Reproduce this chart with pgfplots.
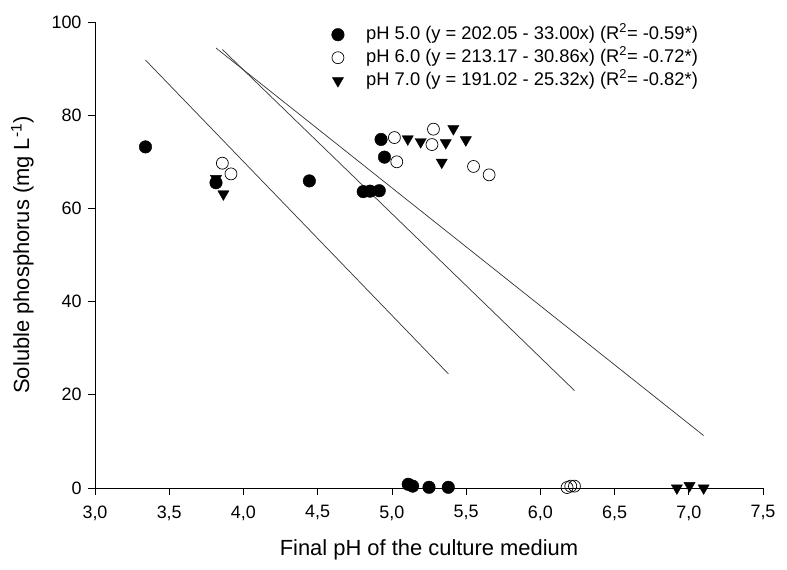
\documentclass[border=0pt]{standalone}
\usepackage{pgfplots}
\pgfplotsset{compat=1.18}
\usepackage{fontspec}
\setmainfont{Liberation Sans}
\begin{document}
\begin{tikzpicture}
\begin{axis}[
  scale only axis,
  width=668bp, height=466bp,
  xmin=3, xmax=7.5, ymin=0, ymax=100,
  axis lines=left,
  axis line style={-, line width=0.7bp},
  tick align=outside,
  major tick length=7bp,
  tick style={line width=0.7bp, black},
  xtick={3,3.5,4,4.5,5,5.5,6,6.5,7,7.5},
  ytick={0,20,40,60,80,100},
  minor tick num=0,
  /pgf/number format/assume math mode=true,
  xticklabel style={/pgf/number format/.cd, fixed, fixed zerofill, precision=1, use comma},
  ticklabel style={font=\fontsize{18}{20}\selectfont},
  xticklabel shift=7bp,
  yticklabel shift=3bp,
  label style={font=\fontsize{22}{26}\selectfont},
  xlabel={Final pH of the culture medium},
  ylabel={Soluble phosphorus (mg L\textsuperscript{-1})},
  xlabel shift=12bp,
  ylabel shift=11bp,
  clip=false,
  legend cell align=left,
  legend style={draw=none, fill=none, inner sep=0pt,
    at={(rel axis cs:0.354,0.9914)}, anchor=north west,
    font=\fontsize{18.4}{22}\selectfont,
    nodes={inner sep=0pt, text height=13bp, text depth=4bp},
    row sep=6bp,
    /tikz/every odd column/.append style={column sep=22bp}},
]
% pH 5.0
\addplot[only marks, mark=*, mark size=6.3pt, black] coordinates {
 (3.34,73.2) (3.815,65.5) (4.444,65.9) (4.807,63.6) (4.853,63.7) (4.915,63.8)
 (4.927,74.8) (4.95,71.0) (5.11,0.8) (5.14,0.4) (5.25,0.15) (5.38,0.15)
};
\addlegendentry{pH 5.0 (y = 202.05 - 33.00x) (R\textsuperscript{2}= -0.59*)}
% pH 6.0
\addplot[only marks, mark=o, mark size=6pt, mark options={fill=white, line width=0.7bp}, black] coordinates {
 (3.858,69.7) (3.916,67.4) (5.017,75.2) (5.033,70.0) (5.28,77.0) (5.27,73.7)
 (5.55,69.0) (5.655,67.2) (6.18,0.1) (6.205,0.4) (6.23,0.4)
};
\addlegendentry{pH 6.0 (y = 213.17 - 30.86x) (R\textsuperscript{2}= -0.72*)}
% pH 7.0
\addplot[only marks, mark=triangle*, mark size=6.5pt, mark options={rotate=180}, black] coordinates {
 (3.815,66.4) (3.865,63.1) (5.107,74.9) (5.194,74.3) (5.363,74.1) (5.414,77.1)
 (5.498,74.7) (5.336,69.9) (6.92,0.0) (7.005,0.5) (7.10,0.0)
};
\addlegendentry{pH 7.0 (y = 191.02 - 25.32x) (R\textsuperscript{2}= -0.82*)}
% regression lines
\addplot[forget plot, black!80, line width=0.7bp] coordinates {(3.34,91.83) (5.38,24.51)};
\addplot[forget plot, black!80, line width=0.7bp] coordinates {(3.858,94.11) (6.23,20.91)};
\addplot[forget plot, black!80, line width=0.7bp] coordinates {(3.815,94.42) (7.10,11.25)};
\end{axis}
\pgfresetboundingbox
\path ([xshift=-95bp,yshift=-82bp]current axis.south west) rectangle ([xshift=24bp,yshift=22bp]current axis.north east);
\end{tikzpicture}
\end{document}
